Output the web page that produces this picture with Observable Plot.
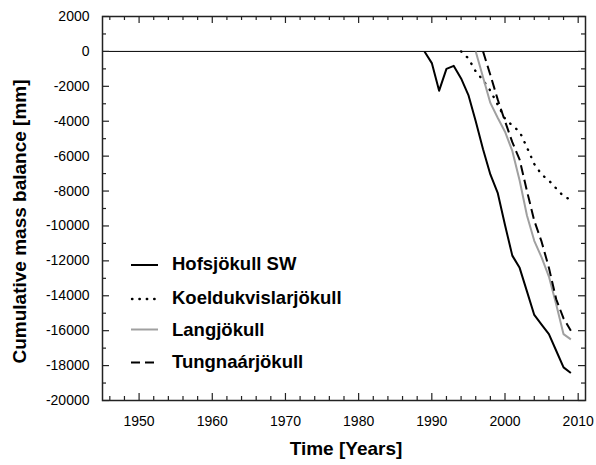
<!DOCTYPE html>
<html><head><meta charset="utf-8">
<script src="https://cdn.jsdelivr.net/npm/d3@7"></script>
<script src="https://cdn.jsdelivr.net/npm/@observablehq/plot@0.6"></script>
<style>
body{margin:0;background:#fff;}
#wrap{position:relative;width:596px;height:465px;font-family:"Liberation Sans",Arial,sans-serif;}
#wrap svg{display:block;}
#legend{position:absolute;left:0;top:0;pointer-events:none;}
</style></head><body><div id="wrap"></div>
<script>
// ---- data ----
const seriesNames = ["Hofsjökull SW","Koeldukvislarjökull","Langjökull","Tungnaárjökull"];
const hofsYears = [1989,1990,1991,1992,1993,1994,1995,1996,1997,1998,1999,2000,2001,2002,2003,2004,2005,2006,2007,2008,2009];
const hofsValues = [0,-670,-2250,-1000,-830,-1550,-2500,-4000,-5600,-7050,-8100,-9950,-11700,-12400,-13750,-15100,-15650,-16200,-17150,-18100,-18420];
const koelYears = [1994,1995,1996,1997,1998,1999,2000,2001,2002,2003,2004,2005,2006,2007,2008,2009];
const koelValues = [0,-400,-1150,-1650,-2250,-3050,-3850,-4250,-4600,-5500,-6450,-7050,-7400,-7850,-8300,-8500];
const langYears = [1996,1997,1998,1999,2000,2001,2002,2003,2004,2005,2006,2007,2008,2009];
const langValues = [0,-1475,-2950,-3800,-4600,-5700,-7400,-9400,-10850,-11800,-12900,-14500,-16200,-16500];
const tungYears = [1997,1998,1999,2000,2001,2002,2003,2004,2005,2006,2007,2008,2009];
const tungValues = [0,-1350,-2750,-4000,-5200,-6200,-8000,-9700,-10900,-12400,-14200,-15300,-16000];
const xTickValues = [1950,1960,1970,1980,1990,2000,2010];
const yTickValues = [-20000,-18000,-16000,-14000,-12000,-10000,-8000,-6000,-4000,-2000,0,2000];
const xMinorTicks = d3.range(1946, 2011, 2).filter(v => v % 10 !== 0);
const yMinorTicks = d3.range(-19000, 2000, 2000);
const xDomain = [1945, 2011];
const yDomain = [-20000, 2000];
const xTitle = "Time [Years]";
const yTitle = "Cumulative mass balance [mm]";

// ---- styles per series ----
const styles = [
  {stroke:"#000", dash:null, width:2},
  {stroke:"#000", dash:"0.4,7.6", width:2.4, cap:"round"},
  {stroke:"#a0a0a0", dash:null, width:2},
  {stroke:"#000", dash:"10,5", width:2}
];
const tables = [
  hofsYears.map((y,i)=>({year:y, value:hofsValues[i]})),
  koelYears.map((y,i)=>({year:y, value:koelValues[i]})),
  langYears.map((y,i)=>({year:y, value:langValues[i]})),
  tungYears.map((y,i)=>({year:y, value:tungValues[i]}))
];

const W = 596, H = 465, mL = 102, mR = 11, mT = 16, mB = 65;
const pw = W - mL - mR, ph = H - mT - mB;
// tick lengths expressed in data units (px -> units)
const xu = (xDomain[1]-xDomain[0]) / pw, yu = (yDomain[1]-yDomain[0]) / ph;
const majPx = 7, minPx = 4;

const lineMarks = tables.map((t,i)=>Plot.line(t, {
  x:"year", y:"value", stroke: styles[i].stroke, strokeWidth: styles[i].width,
  strokeDasharray: styles[i].dash, strokeLinecap: styles[i].cap || "butt", strokeLinejoin:"round"
}));

const tickStyle = {stroke:"#222", strokeWidth:1.2};
const chart = Plot.plot({
  width: W, height: H,
  marginLeft: mL, marginRight: mR, marginTop: mT, marginBottom: mB,
  style: {fontFamily: '"Liberation Sans", Arial, sans-serif', fontSize: "14px", color:"#000", background:"#fff"},
  x: {domain: xDomain},
  y: {domain: yDomain},
  marks: [
    Plot.ruleY([0], {stroke:"#000", strokeWidth:1}),
    ...lineMarks,
    // inward ticks on all four sides
    Plot.ruleX(xTickValues, {...tickStyle, y1: yDomain[0], y2: yDomain[0] + majPx*yu}),
    Plot.ruleX(xTickValues, {...tickStyle, y1: yDomain[1], y2: yDomain[1] - majPx*yu}),
    Plot.ruleX(xMinorTicks, {...tickStyle, y1: yDomain[0], y2: yDomain[0] + minPx*yu}),
    Plot.ruleX(xMinorTicks, {...tickStyle, y1: yDomain[1], y2: yDomain[1] - minPx*yu}),
    Plot.ruleY(yTickValues, {...tickStyle, x1: xDomain[0], x2: xDomain[0] + majPx*xu}),
    Plot.ruleY(yTickValues, {...tickStyle, x1: xDomain[1], x2: xDomain[1] - majPx*xu}),
    Plot.ruleY(yMinorTicks, {...tickStyle, x1: xDomain[0], x2: xDomain[0] + minPx*xu}),
    Plot.ruleY(yMinorTicks, {...tickStyle, x1: xDomain[1], x2: xDomain[1] - minPx*xu}),
    Plot.frame({stroke:"#222", strokeWidth:1.5}),
    Plot.axisX(xTickValues, {anchor:"bottom", tickSize:0, tickPadding:16, label:null, tickFormat:d=>String(d), fontSize:14}),
    Plot.axisY(yTickValues, {anchor:"left", tickSize:0, tickPadding:13, label:null, tickFormat:d=>String(d), fontSize:14}),
    Plot.text([xTitle], {frameAnchor:"bottom", textAnchor:"middle", lineAnchor:"middle", dx:2, dy:48, fontWeight:"bold", fontSize:19, fill:"#000"}),
    Plot.text([yTitle], {frameAnchor:"left", textAnchor:"middle", lineAnchor:"middle", rotate:-90, dx:-83, dy:13, fontWeight:"bold", fontSize:19, fill:"#000"})
  ]
});
const wrap = document.getElementById("wrap");
wrap.appendChild(chart);

// ---- legend (inside plot area) ----
const ns = "http://www.w3.org/2000/svg";
const leg = document.createElementNS(ns, "svg");
leg.setAttribute("id","legend");
leg.setAttribute("width", W); leg.setAttribute("height", H);
const rowLineY = [265, 299, 329.5, 362.5];
const rowTextY = [269.5, 303.5, 336, 367.5];
seriesNames.forEach((name,i)=>{
  const ln = document.createElementNS(ns,"line");
  ln.setAttribute("x1",i===1 ? 132 : 131); ln.setAttribute("x2", i===3 ? 154 : 158);
  ln.setAttribute("y1",rowLineY[i]); ln.setAttribute("y2",rowLineY[i]);
  ln.setAttribute("stroke",styles[i].stroke);
  ln.setAttribute("stroke-width",styles[i].width);
  if (styles[i].dash) ln.setAttribute("stroke-dasharray", i===1 ? "0.4,7" : "9,5");
  if (styles[i].cap) ln.setAttribute("stroke-linecap", styles[i].cap);
  leg.appendChild(ln);
  const tx = document.createElementNS(ns,"text");
  tx.setAttribute("x",172); tx.setAttribute("y",rowTextY[i]);
  tx.setAttribute("font-family",'"Liberation Sans", Arial, sans-serif');
  tx.setAttribute("font-weight","bold"); tx.setAttribute("font-size","18.5");
  tx.textContent = name;
  leg.appendChild(tx);
});
wrap.appendChild(leg);
</script>
</body></html>
